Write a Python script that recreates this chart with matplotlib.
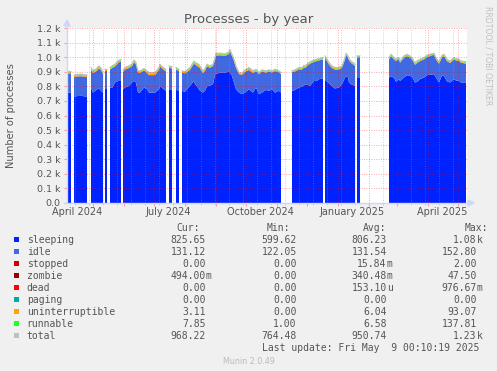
import numpy as np
import matplotlib
matplotlib.use('Agg')
import matplotlib.pyplot as plt
import matplotlib.dates as mdates
from matplotlib.lines import Line2D
from matplotlib.patches import Polygon, Rectangle
from matplotlib.transforms import IdentityTransform
from matplotlib.ticker import FuncFormatter, MultipleLocator
from datetime import datetime, timedelta

nan = np.nan
start = datetime(2024, 4, 5)

# day offsets from start, one line per data segment (nan = no data)
days = [0, 4, 5,
        7, 10, 14, 17, 20, 22,
        24, 26, 29, 32, 34, 36, 37,
        38, 40, 41,
        43, 45, 48, 51, 54, 55,
        56, 58, 62, 65, 67, 69, 71, 73, 77, 80, 82, 88, 92, 93, 95, 99, 100,
        102, 105, 107,
        109, 112, 113,
        115, 118, 120, 123, 127, 128, 130, 132, 133, 136, 138, 140, 143, 146, 148, 149, 153, 158, 162,
        163, 165, 167, 169, 172, 175, 178, 182, 186, 189, 192, 195, 199, 202, 205, 208, 212, 214, 219,
        225, 228, 232, 235, 237, 238, 241, 243, 247, 250, 252, 256, 257,
        258, 262, 265, 268, 272, 275, 278, 279, 281, 282, 284, 288, 289,
        290, 293, 300,
        322, 324, 327, 329, 332, 333, 337, 340, 343, 345, 348, 350, 353, 357, 360, 363, 367, 369,
        372, 375, 377, 380, 383, 387, 389, 392, 394, 399]

sleeping = [760, 755, nan,
            730, 733, 735, 732, 730, nan,
            792, 757, 775, 785, 770, 757, nan,
            780, 780, nan,
            792, 788, 826, 837, 837, nan,
            780, 792, 803, 826, 837, 826, 757, 757, 792, 780, 757, 757, 780, 803, 790, 769, nan,
            780, 778, nan,
            775, 772, nan,
            769, 762, 780, 803, 837, 815, 800, 780, 770, 757, 770, 800, 805, 815, 880, 885, 894, 894, 900,
            895, 871, 826, 780, 757, 746, 757, 780, 757, 792, 746, 757, 775, 769, 780, 757, 769, 757, nan,
            769, 775, 792, 797, 805, 815, 810, 803, 837, 837, 849, 854, nan,
            845, 820, 800, 785, 792, 815, 860, 870, 860, 826, 815, 803, nan,
            854, 854, nan,
            860, 867, 860, 831, 849, 837, 860, 876, 871, 867, 826, 831, 849, 860, 876, 880, 883, 860,
            826, 876, 870, 835, 826, 849, 840, 837, 826, 826]

total = [905, 900, nan,
         876, 882, 884, 880, 878, nan,
         929, 906, 920, 940, 925, 898, nan,
         917, 917, nan,
         929, 940, 952, 974, 986, nan,
         911, 929, 940, 952, 981, 963, 906, 906, 922, 906, 895, 895, 929, 952, 936, 915, nan,
         940, 935, nan,
         929, 917, nan,
         906, 902, 910, 929, 974, 966, 958, 950, 940, 906, 922, 952, 940, 952, 997, 1027, 1027, 1022, 1036,
         1054, 1020, 986, 940, 895, 890, 913, 929, 906, 917, 895, 913, 906, 913, 906, 917, 906, 895, nan,
         906, 913, 929, 929, 945, 940, 958, 968, 981, 986, 990, 997, nan,
         1009, 963, 940, 929, 929, 940, 997, 1027, 1009, 990, 974, 952, nan,
         1009, 1009, nan,
         997, 1020, 997, 986, 997, 974, 1009, 1020, 1009, 997, 963, 974, 986, 997, 1013, 1020, 1027, 997,
         968, 1013, 1020, 986, 974, 997, 990, 986, 974, 968]

uninterruptible = [6, 6, nan,
                   7, 8, 8, 7, 7, nan,
                   6, 9, 10, 8, 7, 6, nan,
                   5, 5, nan,
                   6, 6, 7, 6, 6, nan,
                   6, 7, 6, 6, 7, 6, 8, 8, 6, 7, 12, 12, 7, 6, 6, 6, nan,
                   6, 6, nan,
                   6, 6, nan,
                   6, 7, 6, 8, 9, 8, 12, 12, 10, 10, 8, 7, 6, 6, 8, 8, 7, 7, 6,
                   6, 6, 6, 7, 6, 6, 8, 10, 9, 7, 6, 6, 6, 6, 6, 6, 5, 6, nan,
                   5, 5, 6, 7, 9, 8, 6, 6, 5, 5, 5, 6, nan,
                   6, 8, 10, 9, 8, 6, 6, 5, 5, 6, 7, 6, nan,
                   5, 5, nan,
                   5, 5, 6, 6, 5, 6, 6, 5, 5, 6, 9, 8, 6, 5, 5, 5, 4, 5,
                   7, 6, 5, 6, 8, 6, 5, 5, 6, 5]

runnable = [8, 8, nan,
            6, 6, 7, 6, 6, nan,
            7, 7, 8, 9, 7, 6, nan,
            7, 7, nan,
            8, 9, 9, 8, 8, nan,
            7, 7, 8, 8, 9, 8, 6, 6, 7, 7, 6, 6, 8, 9, 7, 7, nan,
            7, 7, nan,
            7, 7, nan,
            6, 6, 7, 8, 9, 8, 7, 7, 6, 6, 7, 8, 7, 7, 8, 9, 7, 7, 8,
            9, 7, 6, 6, 5, 5, 6, 7, 6, 6, 5, 6, 6, 6, 5, 6, 5, 5, nan,
            5, 6, 6, 7, 7, 6, 7, 7, 8, 7, 7, 7, nan,
            8, 6, 5, 5, 6, 6, 8, 9, 7, 6, 6, 6, nan,
            7, 7, nan,
            8, 9, 7, 6, 7, 6, 7, 8, 7, 6, 6, 7, 7, 7, 8, 8, 7, 7,
            6, 8, 8, 7, 6, 7, 7, 7, 6, 8]

zombie = [0, 0, nan,
          0, 0, 0, 0, 0, nan,
          0, 0, 0, 3, 0, 0, nan,
          0, 0, nan,
          0, 0, 0, 0, 0, nan,
          0, 0, 0, 0, 0, 0, 0, 0, 0, 0, 3, 3, 0, 0, 0, 0, nan,
          0, 0, nan,
          0, 0, nan,
          0, 0, 0, 0, 0, 0, 0, 0, 0, 0, 0, 0, 0, 0, 0, 0, 0, 0, 0,
          0, 0, 0, 0, 0, 0, 0, 0, 0, 0, 0, 0, 0, 0, 0, 0, 0, 0, nan,
          0, 0, 0, 0, 0, 0, 0, 0, 0, 0, 0, 0, nan,
          0, 0, 0, 0, 0, 0, 0, 0, 0, 0, 0, 0, nan,
          0, 0, nan,
          0, 0, 0, 0, 0, 0, 0, 0, 0, 0, 0, 0, 0, 0, 0, 0, 5, 0,
          0, 0, 0, 0, 0, 0, 0, 0, 0, 0]

for arr in (sleeping, total, uninterruptible, runnable, zombie):
    assert len(arr) == len(days), len(arr)

# legend table
names = ['sleeping', 'idle', 'stopped', 'zombie', 'dead', 'paging',
         'uninterruptible', 'runnable', 'total']
colors = ['#0022ff', '#4169e1', '#cc0000', '#990000', '#ff0000', '#00aaaa',
          '#ffa500', '#22ff22', '#c0c0c0']
cur_vals = ['825.65', '131.12', '0.00', '494.00m', '0.00', '0.00', '3.11', '7.85', '968.22']
min_vals = ['599.62', '122.05', '0.00', '0.00', '0.00', '0.00', '0.00', '1.00', '764.48']
avg_vals = ['806.23', '131.54', '15.84m', '340.48m', '153.10u', '0.00', '6.04', '6.58', '950.74']
max_vals = ['1.08k', '152.80', '2.00', '47.50', '976.67m', '0.00', '93.07', '137.81', '1.23k']

label_dates = ['2024-04-15', '2024-07-15', '2024-10-15', '2025-01-15', '2025-04-15']
label_texts = ['April 2024', 'July 2024', 'October 2024', 'January 2025', 'April 2025']

W, H = 497, 371
FONT = '#555555'
AXIS = '#CFD6F8'

fig = plt.figure(figsize=(W / 100, H / 100), dpi=100, facecolor='#f0f0f0')
ax = fig.add_axes([67 / W, 1 - 203 / H, 400 / W, 175 / H])
ax.set_facecolor('white')

x = [start + timedelta(days=d) for d in days]
S = np.array(sleeping, float)
T = np.array(total, float)
U = np.array(uninterruptible, float)
R = np.array(runnable, float)
Z = np.array(zombie, float)
idle = T - S - U - R - Z

l1 = S
l2 = l1 + idle
l3 = l2 + Z
l4 = l3 + U
l5 = l4 + R
ax.fill_between(x, 0, l1, color=colors[0], lw=0)
ax.fill_between(x, l1, l2, color=colors[1], lw=0)
ax.fill_between(x, l2, l3, color=colors[3], lw=0)
ax.fill_between(x, l3, l4, color=colors[6], lw=0)
ax.fill_between(x, l4, l5, color=colors[7], lw=0)
ax.plot(x, T, color=colors[8], lw=0.8)

ax.set_xlim(start, start + timedelta(days=400))
ax.set_ylim(0, 1200)

# grid: months (red) and every 14 days (grey), every 100 on y
ax.xaxis.set_major_locator(mdates.MonthLocator())
minor_days = [start + timedelta(days=d) for d in range(8, 400, 14)]
ax.set_xticks(minor_days, minor=True)
ax.yaxis.set_major_locator(MultipleLocator(100))
ax.yaxis.set_major_formatter(FuncFormatter(lambda v, p: '0.0' if v == 0 else '%.1f k' % (v / 1000)))
ax.set_axisbelow(False)
ax.grid(True, which='major', axis='both', color='#ff0000', alpha=0.35, lw=0.7, ls=(0, (1, 1.5)))
ax.grid(True, which='minor', axis='x', color='#999999', alpha=0.45, lw=0.7, ls=(0, (1, 1.5)))
ax.tick_params(axis='x', which='major', length=2, color='#f0a0a0', labelbottom=False)
ax.tick_params(axis='x', which='minor', length=1.5, color='#c8c8c8', labelbottom=False)
ax.tick_params(axis='y', which='major', length=2, color='#f0a0a0', pad=2.5,
               labelsize=6.8, labelcolor=FONT)
for s in ax.spines.values():
    s.set_visible(False)

for d, t in zip(label_dates, label_texts):
    ax.text(datetime.strptime(d, '%Y-%m-%d'), -9 / 175, t, transform=ax.get_xaxis_transform(),
            ha='center', va='center', fontsize=7, color=FONT)

# axis lines with arrows (pixel coords)
def px(y):
    return H - y

fig.add_artist(Line2D([67, 67], [px(203), px(25)], color=AXIS, lw=1, transform=IdentityTransform()))
fig.add_artist(Line2D([64, 469], [px(203), px(203)], color=AXIS, lw=1, transform=IdentityTransform()))
fig.add_artist(Polygon([[64, px(26)], [70, px(26)], [67, px(20)]], closed=True, color=AXIS,
                       transform=IdentityTransform()))
fig.add_artist(Polygon([[468, px(200)], [468, px(206)], [474, px(203)]], closed=True, color=AXIS,
                       transform=IdentityTransform()))

fig.text(0.5, 1 - 22.5 / H, 'Processes - by year', ha='center', va='baseline', fontsize=9.5, color=FONT)
fig.text(11 / W, 1 - 115.5 / H, 'Number of processes', rotation=90, ha='center', va='center',
         fontsize=7.1, color=FONT)
fig.text(488 / W, 1 - 56 / H, 'RRDTOOL / TOBI OETIKER', rotation=270, ha='center', va='center',
         fontsize=5.6, color='#c0c0c0')

mono = 'DejaVu Sans Mono'
fs = 7
fig.text(176 / W, 1 - (227.7 + 3) / H, 'Cur:', family=mono, fontsize=fs, color=FONT, va='baseline')
fig.text(266.7 / W, 1 - (227.7 + 3) / H, 'Min:', family=mono, fontsize=fs, color=FONT, va='baseline')
fig.text(363 / W, 1 - (227.7 + 3) / H, 'Avg:', family=mono, fontsize=fs, color=FONT, va='baseline')
fig.text(465 / W, 1 - (227.7 + 3) / H, 'Max:', family=mono, fontsize=fs, color=FONT, va='baseline')

col_right = [206, 296.7, 386.7, 476.7]
for i, name in enumerate(names):
    yc = 239.7 + 12 * i
    fig.add_artist(Rectangle((14, px(yc + 2.6)), 5.3, 5.3, color=colors[i], lw=0,
                             transform=IdentityTransform()))
    fig.text(26.7 / W, 1 - (yc + 3) / H, name, family=mono, fontsize=fs, color=FONT, va='baseline')
    for xr, vals in zip(col_right, [cur_vals, min_vals, avg_vals, max_vals]):
        v = vals[i]
        num, suf = (v[:-1], v[-1]) if v[-1] in 'mku' else (v, '')
        fig.text(xr / W, 1 - (yc + 3) / H, num, family=mono, fontsize=fs, color=FONT,
                 va='baseline', ha='right')
        if suf:
            fig.text(xr / W, 1 - (yc + 3) / H, suf, family=mono, fontsize=fs, color=FONT,
                     va='baseline', ha='left')

fig.text(261.7 / W, 1 - (347.7 + 3) / H, 'Last update: Fri May  9 00:10:19 2025', family=mono,
         fontsize=fs, color=FONT, va='baseline')
fig.text(248.5 / W, 1 - 361 / H, 'Munin 2.0.49', ha='center', va='center', fontsize=5.8, color='#bbbbbb')

fig.savefig('out.png', dpi=100, facecolor=fig.get_facecolor())
